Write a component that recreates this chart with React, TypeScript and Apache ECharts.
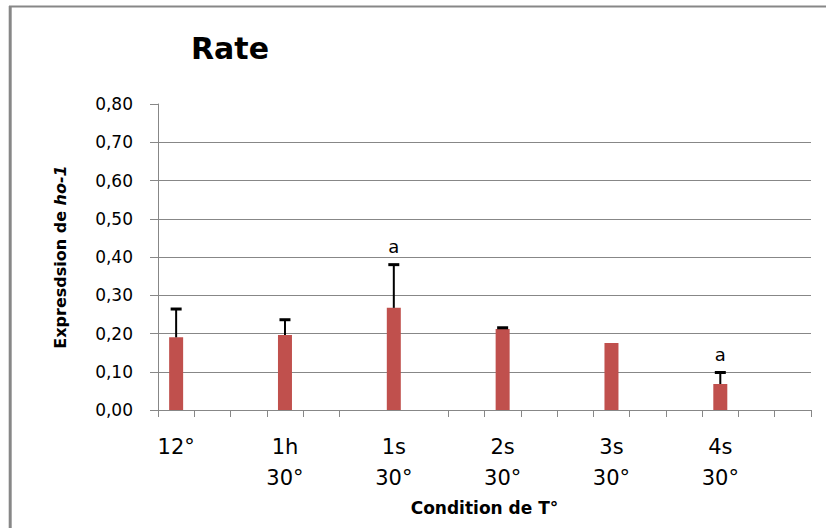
import React, { useEffect, useRef } from "react";
import * as echarts from "echarts";

const categories = ["12°", "1h\n30°", "1s\n30°", "2s\n30°", "3s\n30°", "4s\n30°"];
const values = [0.19, 0.196, 0.267, 0.212, 0.175, 0.068];
const errors = [0.074, 0.04, 0.113, 0.003, 0, 0.03];
const significance = ["", "", "a", "", "", "a"];
const yTicks = [0, 0.1, 0.2, 0.3, 0.4, 0.5, 0.6, 0.7, 0.8];
const slotsPerCategory = 3;

const GRAY = "#878787";
const FONT = "DejaVu Sans";

export default function App() {
  const ref = useRef<HTMLDivElement>(null);

  useEffect(() => {
    if (!ref.current) return;
    const chart = echarts.init(ref.current, undefined, { renderer: "svg" });

    const slotCount = categories.length * slotsPerCategory;
    const xData = Array.from({ length: slotCount }, (_, i) =>
      i % slotsPerCategory === 0 ? categories[i / slotsPerCategory] : ""
    );
    const barData = xData.map((_, i) =>
      i % slotsPerCategory === 0 ? values[i / slotsPerCategory] : null
    );
    const errData = categories.map((_, k) => [
      k * slotsPerCategory,
      values[k],
      values[k] + errors[k],
    ]);

    const splitColors = yTicks.map((_, i) =>
      i === yTicks.length - 1 ? "rgba(0,0,0,0)" : GRAY
    );

    chart.setOption({
      animation: false,
      backgroundColor: "#ffffff",
      title: {
        text: "Rate",
        left: 191,
        top: 33,
        padding: 0,
        textStyle: { fontFamily: FONT, fontWeight: "bold", fontSize: 30, color: "#000" },
      },
      graphic: [
        { type: "line", shape: { x1: 10.2, y1: 6, x2: 10.2, y2: 540 }, style: { stroke: GRAY, lineWidth: 3 } },
        { type: "line", shape: { x1: 9, y1: 6.5, x2: 840, y2: 6.5 }, style: { stroke: GRAY, lineWidth: 2 } },
      ],
      grid: { left: 158, right: 15, top: 104, bottom: 118 },
      xAxis: {
        type: "category",
        data: xData,
        boundaryGap: true,
        axisLine: { lineStyle: { color: GRAY, width: 1 } },
        axisTick: {
          show: true,
          length: 7,
          lineStyle: { color: GRAY },
          interval: (i: number) => !(i === 6 || i === 7),
        },
        axisLabel: {
          interval: 0,
          margin: 21,
          fontFamily: FONT,
          fontSize: 21,
          lineHeight: 31,
          color: "#000",
          align: "center",
        },
        name: "Condition de T°",
        nameLocation: "middle",
        nameGap: 89,
        nameTextStyle: { fontFamily: FONT, fontWeight: "bold", fontSize: 17, color: "#000" },
      },
      yAxis: {
        type: "value",
        min: 0,
        max: 0.8,
        interval: 0.1,
        axisLine: { show: true, lineStyle: { color: GRAY, width: 1 } },
        axisTick: { show: true, length: 8, lineStyle: { color: GRAY } },
        splitLine: { show: true, lineStyle: { color: splitColors, width: 1 } },
        axisLabel: {
          margin: 25,
          fontFamily: FONT,
          fontSize: 17,
          color: "#000",
          formatter: (v: number) => v.toFixed(2).replace(".", ","),
        },
        name: "{n|Expresdsion de }{i|ho-1}",
        nameLocation: "middle",
        nameGap: 90,
        nameTextStyle: {
          rich: {
            n: { fontFamily: FONT, fontWeight: "bold", fontSize: 16, color: "#000" },
            i: { fontFamily: FONT, fontWeight: "bold", fontStyle: "italic", fontSize: 16, color: "#000" },
          },
        },
      },
      series: [
        {
          type: "bar",
          data: barData,
          barWidth: 14,
          itemStyle: { color: "#C0504D" },
        },
        {
          type: "custom",
          data: errData,
          z: 5,
          renderItem: (params: any, api: any) => {
            const idx = api.value(0);
            const v = api.value(1);
            const top = api.value(2);
            const p0 = api.coord([idx, v]);
            const p1 = api.coord([idx, top]);
            const children: any[] = [];
            if (top > v) {
              children.push({
                type: "line",
                shape: { x1: p0[0], y1: p0[1], x2: p1[0], y2: p1[1] },
                style: { stroke: "#000", lineWidth: 2 },
              });
              children.push({
                type: "line",
                shape: { x1: p1[0] - 5.5, y1: p1[1], x2: p1[0] + 5.5, y2: p1[1] },
                style: { stroke: "#000", lineWidth: 3 },
              });
            }
            const sig = significance[params.dataIndex];
            if (sig) {
              children.push({
                type: "text",
                x: p1[0],
                y: p1[1] - 18,
                style: {
                  text: sig,
                  fill: "#000",
                  font: `18px "${FONT}"`,
                  align: "center",
                  verticalAlign: "middle",
                },
              });
            }
            return { type: "group", children };
          },
        },
      ],
    });

    return () => chart.dispose();
  }, []);

  return (
    <div
      ref={ref}
      style={{ position: "fixed", left: 0, top: 0, width: 826, height: 528, background: "#fff" }}
    />
  );
}
